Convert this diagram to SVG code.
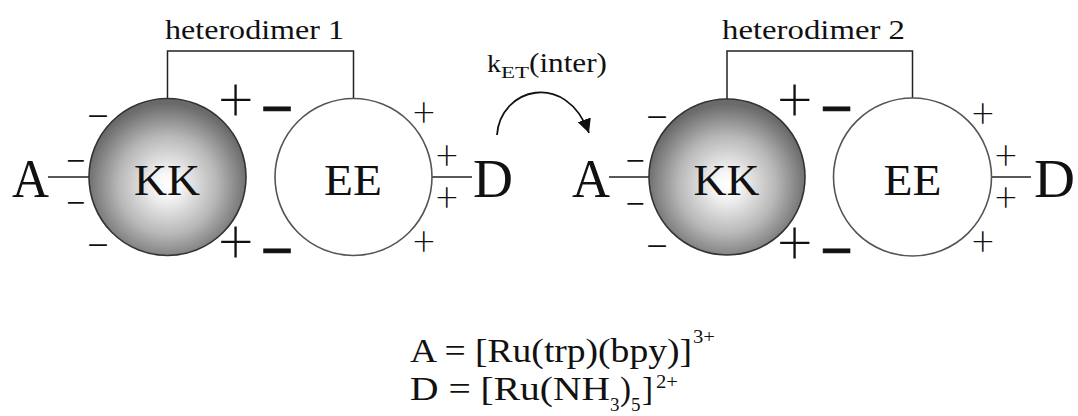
<svg xmlns="http://www.w3.org/2000/svg" width="1078" height="416" viewBox="0 0 1078 416" font-family="'Liberation Serif', 'Times New Roman', Tinos, 'Nimbus Roman', Times, serif">
<style>
text{font-family:'Liberation Serif','Times New Roman',Tinos,'Nimbus Roman',Times,serif;fill:#111}
.ln{stroke:#222;stroke-width:1.5;fill:none}
.kk{fill:url(#gk);stroke:#333;stroke-width:1.6}
.ee{fill:#fff;stroke:#555;stroke-width:1.6}
.big{font-size:54px}
.lab{font-size:45px}
.het{font-size:27px}
.mn{font-size:34px}
.mn2{font-size:38px}
.pl{font-size:60px;font-family:Roboto,'Noto Sans',sans-serif;font-weight:200}
.bm{font-size:58px;font-weight:bold;stroke:#111;stroke-width:0.6}
.sp{font-size:38px;font-family:Roboto,'Noto Sans',sans-serif;font-weight:200}
.f{font-size:33px}
.s{font-size:19px}
</style>
<defs>
<radialGradient id="gk" cx="50%" cy="55%" r="52%">
<stop offset="0" stop-color="#ffffff"/>
<stop offset="0.15" stop-color="#f6f6f6"/>
<stop offset="0.6" stop-color="#b8b8b8"/>
<stop offset="1" stop-color="#6a6a6a"/>
</radialGradient>
<marker id="ah" markerUnits="userSpaceOnUse" markerWidth="14" markerHeight="14" viewBox="0 0 10 10" refX="10" refY="5" orient="auto">
<path d="M0,0 L10,5 L0,10 z" fill="#111"/>
</marker>
</defs>
<rect width="1078" height="416" fill="#fff"/>

<g id="connectors">
<line class="ln" x1="48" y1="177" x2="89" y2="177"/>
<line class="ln" x1="432" y1="177" x2="472" y2="177"/>
<polyline class="ln" points="167.5,99 167.5,51 353.5,51 353.5,99"/>
<line class="ln" x1="609" y1="177" x2="649" y2="177"/>
<line class="ln" x1="991" y1="177" x2="1031" y2="177"/>
<polyline class="ln" points="727,99 727,51 912.5,51 912.5,99"/>
<path id="arrow-ket" d="M497,135 C500,88 566,70 589,133" fill="none" stroke="#111" stroke-width="1.8" marker-end="url(#ah)"/>
</g>

<g id="heterodimer1">
<g id="label1"><text class="het" x="165" y="39" textLength="179" lengthAdjust="spacingAndGlyphs">heterodimer 1</text></g>
<g id="A1"><text class="big" x="12" y="197" textLength="37" lengthAdjust="spacingAndGlyphs">A</text></g>
<g id="KK1">
<circle class="kk" cx="167.5" cy="177" r="78.5"/>
<text class="lab" x="134" y="195" textLength="66" lengthAdjust="spacingAndGlyphs">KK</text>
</g>
<g id="EE1">
<circle class="ee" cx="353.5" cy="177" r="78.5"/>
<text class="lab" x="324" y="195" textLength="58" lengthAdjust="spacingAndGlyphs">EE</text>
</g>
<g id="D1"><text class="big" x="473" y="197" textLength="40" lengthAdjust="spacingAndGlyphs">D</text></g>
<g id="charges1" text-anchor="middle">
<text class="mn" x="75.5" y="171.6">−</text>
<text class="mn" x="75.5" y="213.6">−</text>
<text class="mn2" x="98" y="128.6">−</text>
<text class="mn2" x="98" y="257.6">−</text>
<text class="pl" x="236" y="120">+</text>
<text class="pl" x="236" y="262">+</text>
<text class="bm" x="277" y="127.7">−</text>
<text class="bm" x="277" y="269.7">−</text>
<text class="sp" x="424" y="126">+</text>
<text class="sp" x="447" y="169">+</text>
<text class="sp" x="447" y="211">+</text>
<text class="sp" x="424" y="255">+</text>
</g>
</g>

<g id="ket-label">
<text x="487" y="72" font-size="26" textLength="14" lengthAdjust="spacingAndGlyphs">k</text>
<text x="501" y="78" font-size="16" textLength="28" lengthAdjust="spacingAndGlyphs">ET</text>
<text x="529" y="72" font-size="27" textLength="78" lengthAdjust="spacingAndGlyphs">(inter)</text>
</g>

<g id="heterodimer2" transform="translate(559,0)">
<g id="label2"><text class="het" x="163" y="39" textLength="183" lengthAdjust="spacingAndGlyphs">heterodimer 2</text></g>
<g id="A2"><text class="big" x="13" y="197" textLength="38" lengthAdjust="spacingAndGlyphs">A</text></g>
<g id="KK2">
<circle class="kk" cx="168" cy="177" r="78"/>
<text class="lab" x="134.5" y="195" textLength="66" lengthAdjust="spacingAndGlyphs">KK</text>
</g>
<g id="EE2">
<circle class="ee" cx="353.5" cy="177" r="79"/>
<text class="lab" x="324.5" y="195" textLength="58" lengthAdjust="spacingAndGlyphs">EE</text>
</g>
<g id="D2"><text class="big" x="475" y="197" textLength="41" lengthAdjust="spacingAndGlyphs">D</text></g>
<g id="charges2" text-anchor="middle">
<text class="mn" x="76" y="171.6">−</text>
<text class="mn" x="76" y="214.6">−</text>
<text class="mn2" x="98" y="129.6">−</text>
<text class="mn2" x="98" y="258.6">−</text>
<text class="pl" x="236" y="120">+</text>
<text class="pl" x="236" y="263">+</text>
<text class="bm" x="277.5" y="127.7">−</text>
<text class="bm" x="277.5" y="269.7">−</text>
<text class="sp" x="424" y="127">+</text>
<text class="sp" x="447" y="169">+</text>
<text class="sp" x="447" y="211">+</text>
<text class="sp" x="424" y="255">+</text>
</g>
</g>

<g id="legend">
<text class="f" x="410" y="362" textLength="282" lengthAdjust="spacingAndGlyphs">A = [Ru(trp)(bpy)]</text>
<text class="s" x="693" y="343" textLength="22" lengthAdjust="spacingAndGlyphs">3+</text>
<text class="f" x="410" y="400" textLength="200" lengthAdjust="spacingAndGlyphs">D = [Ru(NH</text>
<text class="s" x="610" y="411" font-size="20">3</text>
<text class="f" x="620" y="400">)</text>
<text class="s" x="631" y="411" font-size="20">5</text>
<text class="f" x="642" y="400">]</text>
<text class="s" x="656" y="388" textLength="22" lengthAdjust="spacingAndGlyphs">2+</text>
</g>
</svg>
